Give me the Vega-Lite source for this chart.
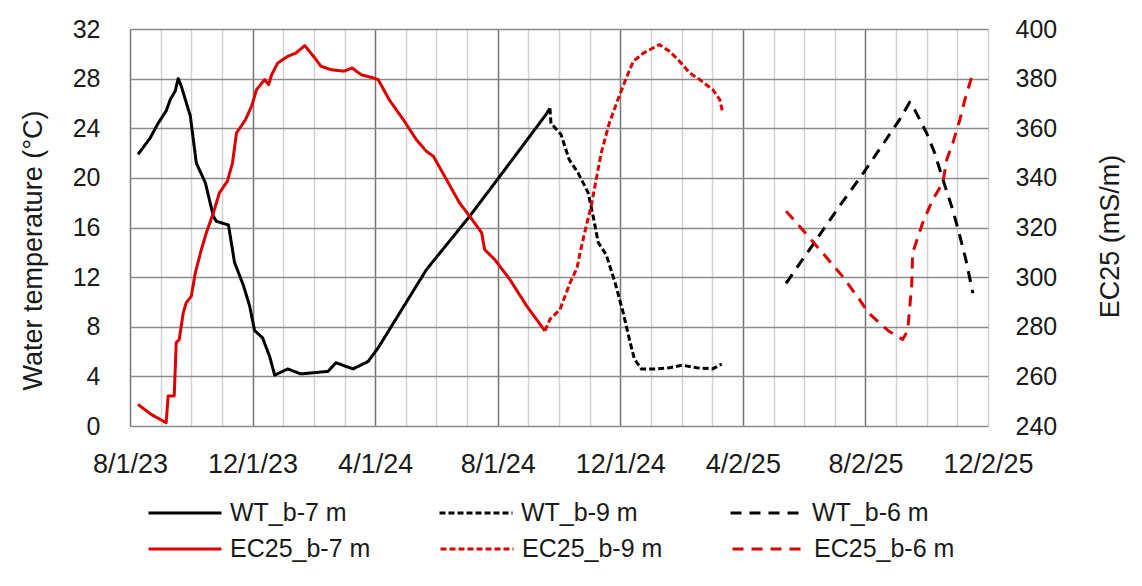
{
  "$schema": "https://vega.github.io/schema/vega-lite/v6.json",
  "width": 858,
  "height": 397,
  "autosize": {"type": "none"},
  "padding": {"left": 130, "top": 29, "right": 154, "bottom": 160},
  "background": "white",
  "config": {
    "font": "Liberation Sans",
    "view": {"stroke": null},
    "axis": {"labelColor": "#1a1a1a", "titleColor": "#1a1a1a", "titleFontWeight": "normal", "labelFont": "Liberation Sans", "titleFont": "Liberation Sans"},
    "legend": {"labelFont": "Liberation Sans", "labelColor": "#1a1a1a"}
  },
  "data": {
    "values": [
      {"d": "2023/08/09", "s": "WT_b-7 m", "k": "WT", "v": 21.9},
      {"d": "2023/08/21", "s": "WT_b-7 m", "k": "WT", "v": 23.2},
      {"d": "2023/08/29", "s": "WT_b-7 m", "k": "WT", "v": 24.4},
      {"d": "2023/09/06", "s": "WT_b-7 m", "k": "WT", "v": 25.4},
      {"d": "2023/09/10", "s": "WT_b-7 m", "k": "WT", "v": 26.3},
      {"d": "2023/09/15", "s": "WT_b-7 m", "k": "WT", "v": 27.0},
      {"d": "2023/09/18", "s": "WT_b-7 m", "k": "WT", "v": 28.0},
      {"d": "2023/09/21", "s": "WT_b-7 m", "k": "WT", "v": 27.4},
      {"d": "2023/09/30", "s": "WT_b-7 m", "k": "WT", "v": 25.0},
      {"d": "2023/10/06", "s": "WT_b-7 m", "k": "WT", "v": 21.2},
      {"d": "2023/10/15", "s": "WT_b-7 m", "k": "WT", "v": 19.6},
      {"d": "2023/10/23", "s": "WT_b-7 m", "k": "WT", "v": 16.9},
      {"d": "2023/10/26", "s": "WT_b-7 m", "k": "WT", "v": 16.5},
      {"d": "2023/11/07", "s": "WT_b-7 m", "k": "WT", "v": 16.2},
      {"d": "2023/11/13", "s": "WT_b-7 m", "k": "WT", "v": 13.2},
      {"d": "2023/11/22", "s": "WT_b-7 m", "k": "WT", "v": 11.3},
      {"d": "2023/11/28", "s": "WT_b-7 m", "k": "WT", "v": 9.7},
      {"d": "2023/12/03", "s": "WT_b-7 m", "k": "WT", "v": 7.7},
      {"d": "2023/12/11", "s": "WT_b-7 m", "k": "WT", "v": 7.1},
      {"d": "2023/12/18", "s": "WT_b-7 m", "k": "WT", "v": 5.6},
      {"d": "2023/12/23", "s": "WT_b-7 m", "k": "WT", "v": 4.1},
      {"d": "2024/01/05", "s": "WT_b-7 m", "k": "WT", "v": 4.6},
      {"d": "2024/01/18", "s": "WT_b-7 m", "k": "WT", "v": 4.2},
      {"d": "2024/02/14", "s": "WT_b-7 m", "k": "WT", "v": 4.4},
      {"d": "2024/02/22", "s": "WT_b-7 m", "k": "WT", "v": 5.1},
      {"d": "2024/03/10", "s": "WT_b-7 m", "k": "WT", "v": 4.6},
      {"d": "2024/03/25", "s": "WT_b-7 m", "k": "WT", "v": 5.2},
      {"d": "2024/04/04", "s": "WT_b-7 m", "k": "WT", "v": 6.3},
      {"d": "2024/05/22", "s": "WT_b-7 m", "k": "WT", "v": 12.6},
      {"d": "2024/07/04", "s": "WT_b-7 m", "k": "WT", "v": 16.9},
      {"d": "2024/08/01", "s": "WT_b-7 m", "k": "WT", "v": 19.9},
      {"d": "2024/09/18", "s": "WT_b-7 m", "k": "WT", "v": 25.1},
      {"d": "2024/09/22", "s": "WT_b-7 m", "k": "WT", "v": 25.6},

      {"d": "2024/09/22", "s": "WT_b-9 m", "k": "WT", "v": 25.6},
      {"d": "2024/09/23", "s": "WT_b-9 m", "k": "WT", "v": 24.4},
      {"d": "2024/10/03", "s": "WT_b-9 m", "k": "WT", "v": 23.5},
      {"d": "2024/10/11", "s": "WT_b-9 m", "k": "WT", "v": 21.5},
      {"d": "2024/10/20", "s": "WT_b-9 m", "k": "WT", "v": 20.4},
      {"d": "2024/10/30", "s": "WT_b-9 m", "k": "WT", "v": 18.8},
      {"d": "2024/11/04", "s": "WT_b-9 m", "k": "WT", "v": 16.9},
      {"d": "2024/11/09", "s": "WT_b-9 m", "k": "WT", "v": 14.8},
      {"d": "2024/11/17", "s": "WT_b-9 m", "k": "WT", "v": 13.8},
      {"d": "2024/11/26", "s": "WT_b-9 m", "k": "WT", "v": 11.5},
      {"d": "2024/12/04", "s": "WT_b-9 m", "k": "WT", "v": 9.1},
      {"d": "2024/12/10", "s": "WT_b-9 m", "k": "WT", "v": 7.0},
      {"d": "2024/12/15", "s": "WT_b-9 m", "k": "WT", "v": 5.4},
      {"d": "2024/12/22", "s": "WT_b-9 m", "k": "WT", "v": 4.6},
      {"d": "2025/01/06", "s": "WT_b-9 m", "k": "WT", "v": 4.6},
      {"d": "2025/01/19", "s": "WT_b-9 m", "k": "WT", "v": 4.7},
      {"d": "2025/02/01", "s": "WT_b-9 m", "k": "WT", "v": 4.9},
      {"d": "2025/02/15", "s": "WT_b-9 m", "k": "WT", "v": 4.7},
      {"d": "2025/03/03", "s": "WT_b-9 m", "k": "WT", "v": 4.6},
      {"d": "2025/03/12", "s": "WT_b-9 m", "k": "WT", "v": 5.0},

      {"d": "2025/05/15", "s": "WT_b-6 m", "k": "WT", "v": 11.5},
      {"d": "2025/06/14", "s": "WT_b-6 m", "k": "WT", "v": 15.0},
      {"d": "2025/07/07", "s": "WT_b-6 m", "k": "WT", "v": 17.7},
      {"d": "2025/07/31", "s": "WT_b-6 m", "k": "WT", "v": 20.4},
      {"d": "2025/08/16", "s": "WT_b-6 m", "k": "WT", "v": 22.3},
      {"d": "2025/09/05", "s": "WT_b-6 m", "k": "WT", "v": 24.7},
      {"d": "2025/09/15", "s": "WT_b-6 m", "k": "WT", "v": 26.1},
      {"d": "2025/09/20", "s": "WT_b-6 m", "k": "WT", "v": 25.5},
      {"d": "2025/10/02", "s": "WT_b-6 m", "k": "WT", "v": 23.6},
      {"d": "2025/10/10", "s": "WT_b-6 m", "k": "WT", "v": 22.0},
      {"d": "2025/10/18", "s": "WT_b-6 m", "k": "WT", "v": 19.9},
      {"d": "2025/10/28", "s": "WT_b-6 m", "k": "WT", "v": 17.4},
      {"d": "2025/11/04", "s": "WT_b-6 m", "k": "WT", "v": 15.3},
      {"d": "2025/11/10", "s": "WT_b-6 m", "k": "WT", "v": 13.4},
      {"d": "2025/11/17", "s": "WT_b-6 m", "k": "WT", "v": 10.7},

      {"d": "2023/08/09", "s": "EC25_b-7 m", "k": "EC", "v": 248.7},
      {"d": "2023/08/22", "s": "EC25_b-7 m", "k": "EC", "v": 244.7},
      {"d": "2023/09/06", "s": "EC25_b-7 m", "k": "EC", "v": 241.3},
      {"d": "2023/09/08", "s": "EC25_b-7 m", "k": "EC", "v": 252.1},
      {"d": "2023/09/14", "s": "EC25_b-7 m", "k": "EC", "v": 252.1},
      {"d": "2023/09/16", "s": "EC25_b-7 m", "k": "EC", "v": 273.6},
      {"d": "2023/09/19", "s": "EC25_b-7 m", "k": "EC", "v": 274.9},
      {"d": "2023/09/23", "s": "EC25_b-7 m", "k": "EC", "v": 285.6},
      {"d": "2023/09/26", "s": "EC25_b-7 m", "k": "EC", "v": 289.7},
      {"d": "2023/10/01", "s": "EC25_b-7 m", "k": "EC", "v": 292.3},
      {"d": "2023/10/05", "s": "EC25_b-7 m", "k": "EC", "v": 301.7},
      {"d": "2023/10/11", "s": "EC25_b-7 m", "k": "EC", "v": 311.1},
      {"d": "2023/10/16", "s": "EC25_b-7 m", "k": "EC", "v": 317.9},
      {"d": "2023/10/23", "s": "EC25_b-7 m", "k": "EC", "v": 325.9},
      {"d": "2023/10/29", "s": "EC25_b-7 m", "k": "EC", "v": 334.0},
      {"d": "2023/11/06", "s": "EC25_b-7 m", "k": "EC", "v": 338.7},
      {"d": "2023/11/11", "s": "EC25_b-7 m", "k": "EC", "v": 346.0},
      {"d": "2023/11/15", "s": "EC25_b-7 m", "k": "EC", "v": 358.1},
      {"d": "2023/11/24", "s": "EC25_b-7 m", "k": "EC", "v": 363.5},
      {"d": "2023/11/30", "s": "EC25_b-7 m", "k": "EC", "v": 368.9},
      {"d": "2023/12/05", "s": "EC25_b-7 m", "k": "EC", "v": 375.6},
      {"d": "2023/12/13", "s": "EC25_b-7 m", "k": "EC", "v": 379.6},
      {"d": "2023/12/17", "s": "EC25_b-7 m", "k": "EC", "v": 377.6},
      {"d": "2023/12/20", "s": "EC25_b-7 m", "k": "EC", "v": 381.6},
      {"d": "2023/12/26", "s": "EC25_b-7 m", "k": "EC", "v": 386.3},
      {"d": "2024/01/05", "s": "EC25_b-7 m", "k": "EC", "v": 389.0},
      {"d": "2024/01/13", "s": "EC25_b-7 m", "k": "EC", "v": 390.3},
      {"d": "2024/01/22", "s": "EC25_b-7 m", "k": "EC", "v": 393.3},
      {"d": "2024/02/01", "s": "EC25_b-7 m", "k": "EC", "v": 388.3},
      {"d": "2024/02/07", "s": "EC25_b-7 m", "k": "EC", "v": 385.0},
      {"d": "2024/02/17", "s": "EC25_b-7 m", "k": "EC", "v": 383.6},
      {"d": "2024/03/01", "s": "EC25_b-7 m", "k": "EC", "v": 383.0},
      {"d": "2024/03/09", "s": "EC25_b-7 m", "k": "EC", "v": 384.3},
      {"d": "2024/03/18", "s": "EC25_b-7 m", "k": "EC", "v": 381.6},
      {"d": "2024/03/30", "s": "EC25_b-7 m", "k": "EC", "v": 380.3},
      {"d": "2024/04/04", "s": "EC25_b-7 m", "k": "EC", "v": 379.6},
      {"d": "2024/04/15", "s": "EC25_b-7 m", "k": "EC", "v": 371.5},
      {"d": "2024/04/29", "s": "EC25_b-7 m", "k": "EC", "v": 363.5},
      {"d": "2024/05/12", "s": "EC25_b-7 m", "k": "EC", "v": 355.4},
      {"d": "2024/05/22", "s": "EC25_b-7 m", "k": "EC", "v": 350.7},
      {"d": "2024/05/29", "s": "EC25_b-7 m", "k": "EC", "v": 348.7},
      {"d": "2024/06/11", "s": "EC25_b-7 m", "k": "EC", "v": 339.3},
      {"d": "2024/06/24", "s": "EC25_b-7 m", "k": "EC", "v": 329.9},
      {"d": "2024/07/04", "s": "EC25_b-7 m", "k": "EC", "v": 324.6},
      {"d": "2024/07/16", "s": "EC25_b-7 m", "k": "EC", "v": 317.9},
      {"d": "2024/07/19", "s": "EC25_b-7 m", "k": "EC", "v": 311.1},
      {"d": "2024/07/29", "s": "EC25_b-7 m", "k": "EC", "v": 307.1},
      {"d": "2024/08/13", "s": "EC25_b-7 m", "k": "EC", "v": 299.1},
      {"d": "2024/08/30", "s": "EC25_b-7 m", "k": "EC", "v": 288.3},
      {"d": "2024/09/17", "s": "EC25_b-7 m", "k": "EC", "v": 278.3},

      {"d": "2024/09/17", "s": "EC25_b-9 m", "k": "EC", "v": 278.3},
      {"d": "2024/09/22", "s": "EC25_b-9 m", "k": "EC", "v": 283.0},
      {"d": "2024/10/02", "s": "EC25_b-9 m", "k": "EC", "v": 287.0},
      {"d": "2024/10/12", "s": "EC25_b-9 m", "k": "EC", "v": 297.7},
      {"d": "2024/10/19", "s": "EC25_b-9 m", "k": "EC", "v": 303.8},
      {"d": "2024/10/22", "s": "EC25_b-9 m", "k": "EC", "v": 309.8},
      {"d": "2024/10/28", "s": "EC25_b-9 m", "k": "EC", "v": 320.5},
      {"d": "2024/11/02", "s": "EC25_b-9 m", "k": "EC", "v": 328.6},
      {"d": "2024/11/07", "s": "EC25_b-9 m", "k": "EC", "v": 339.3},
      {"d": "2024/11/12", "s": "EC25_b-9 m", "k": "EC", "v": 350.0},
      {"d": "2024/11/20", "s": "EC25_b-9 m", "k": "EC", "v": 362.0},
      {"d": "2024/11/29", "s": "EC25_b-9 m", "k": "EC", "v": 372.0},
      {"d": "2024/12/07", "s": "EC25_b-9 m", "k": "EC", "v": 380.3},
      {"d": "2024/12/14", "s": "EC25_b-9 m", "k": "EC", "v": 387.0},
      {"d": "2024/12/24", "s": "EC25_b-9 m", "k": "EC", "v": 390.3},
      {"d": "2025/01/09", "s": "EC25_b-9 m", "k": "EC", "v": 393.7},
      {"d": "2025/01/19", "s": "EC25_b-9 m", "k": "EC", "v": 391.0},
      {"d": "2025/01/29", "s": "EC25_b-9 m", "k": "EC", "v": 387.0},
      {"d": "2025/02/08", "s": "EC25_b-9 m", "k": "EC", "v": 382.3},
      {"d": "2025/02/18", "s": "EC25_b-9 m", "k": "EC", "v": 379.6},
      {"d": "2025/03/03", "s": "EC25_b-9 m", "k": "EC", "v": 375.6},
      {"d": "2025/03/10", "s": "EC25_b-9 m", "k": "EC", "v": 371.5},
      {"d": "2025/03/13", "s": "EC25_b-9 m", "k": "EC", "v": 366.2},

      {"d": "2025/05/15", "s": "EC25_b-6 m", "k": "EC", "v": 326.6},
      {"d": "2025/06/03", "s": "EC25_b-6 m", "k": "EC", "v": 317.9},
      {"d": "2025/06/23", "s": "EC25_b-6 m", "k": "EC", "v": 308.5},
      {"d": "2025/07/10", "s": "EC25_b-6 m", "k": "EC", "v": 300.4},
      {"d": "2025/07/27", "s": "EC25_b-6 m", "k": "EC", "v": 291.0},
      {"d": "2025/08/05", "s": "EC25_b-6 m", "k": "EC", "v": 285.6},
      {"d": "2025/08/25", "s": "EC25_b-6 m", "k": "EC", "v": 278.3},
      {"d": "2025/09/08", "s": "EC25_b-6 m", "k": "EC", "v": 274.9},
      {"d": "2025/09/13", "s": "EC25_b-6 m", "k": "EC", "v": 278.3},
      {"d": "2025/09/17", "s": "EC25_b-6 m", "k": "EC", "v": 296.4},
      {"d": "2025/09/18", "s": "EC25_b-6 m", "k": "EC", "v": 309.8},
      {"d": "2025/09/28", "s": "EC25_b-6 m", "k": "EC", "v": 321.9},
      {"d": "2025/10/08", "s": "EC25_b-6 m", "k": "EC", "v": 331.3},
      {"d": "2025/10/18", "s": "EC25_b-6 m", "k": "EC", "v": 338.0},
      {"d": "2025/10/22", "s": "EC25_b-6 m", "k": "EC", "v": 347.4},
      {"d": "2025/10/28", "s": "EC25_b-6 m", "k": "EC", "v": 354.1},
      {"d": "2025/11/04", "s": "EC25_b-6 m", "k": "EC", "v": 363.5},
      {"d": "2025/11/09", "s": "EC25_b-6 m", "k": "EC", "v": 371.5},
      {"d": "2025/11/17", "s": "EC25_b-6 m", "k": "EC", "v": 382.3}
    ]
  },
  "layer": [
    {
      "transform": [{"filter": "datum.k == 'WT'"}],
      "mark": {"type": "line", "strokeWidth": 3, "strokeCap": "butt", "strokeJoin": "round"},
      "encoding": {
        "x": {
          "field": "d", "type": "temporal",
          "scale": {"domain": [{"year": 2023, "month": 8, "date": 1}, {"year": 2025, "month": 12, "date": 2}]},
          "axis": {
            "orient": "top", "title": null, "labels": false, "ticks": false, "tickSize": 0, "domain": false,
            "grid": true, "gridColor": "#d2d2d2", "gridWidth": 1.5,
            "values": [
              {"year": 2023, "month": 8, "date": 31, "hours": 12},
              {"year": 2023, "month": 10, "date": 1},
              {"year": 2023, "month": 10, "date": 31, "hours": 12},
              {"year": 2023, "month": 12, "date": 31, "hours": 12},
              {"year": 2024, "month": 1, "date": 31},
              {"year": 2024, "month": 3, "date": 1, "hours": 12},
              {"year": 2024, "month": 5, "date": 1, "hours": 12},
              {"year": 2024, "month": 6, "date": 1},
              {"year": 2024, "month": 7, "date": 1, "hours": 12},
              {"year": 2024, "month": 8, "date": 31, "hours": 12},
              {"year": 2024, "month": 10, "date": 1},
              {"year": 2024, "month": 10, "date": 31, "hours": 12},
              {"year": 2024, "month": 12, "date": 31, "hours": 12},
              {"year": 2025, "month": 1, "date": 31},
              {"year": 2025, "month": 3, "date": 2, "hours": 12},
              {"year": 2025, "month": 5, "date": 2, "hours": 12},
              {"year": 2025, "month": 6, "date": 2},
              {"year": 2025, "month": 7, "date": 2, "hours": 12},
              {"year": 2025, "month": 9, "date": 1, "hours": 12},
              {"year": 2025, "month": 10, "date": 2},
              {"year": 2025, "month": 11, "date": 1, "hours": 12}
            ]
          }
        },
        "y": {
          "field": "v", "type": "quantitative",
          "scale": {"domain": [0, 32], "nice": false, "zero": false},
          "axis": {
            "values": [0, 4, 8, 12, 16, 20, 24, 28, 32],
            "grid": true, "gridColor": "#8c8c8c", "gridWidth": 1.5,
            "domain": false, "ticks": false, "tickSize": 0,
            "labelFontSize": 25, "labelPadding": 30,
            "title": "Water temperature (°C)", "titleFontSize": 27,
            "titleAngle": -90, "titleX": -97, "titleY": 221, "titleAlign": "center", "titleBaseline": "middle"
          }
        },
        "color": {
          "field": "s", "type": "nominal",
          "scale": {
            "domain": ["WT_b-7 m", "WT_b-9 m", "WT_b-6 m"],
            "range": ["#000000", "#000000", "#000000"]
          },
          "legend": {
            "title": null, "orient": "none", "legendX": 17, "legendY": 446, "direction": "horizontal", "columns": 3,
            "symbolType": "stroke", "symbolSize": 5329, "symbolStrokeWidth": 3,
            "labelFontSize": 25, "labelOffset": 7, "labelLimit": 400,
            "columnPadding": 86
          }
        },
        "strokeDash": {
          "field": "s", "type": "nominal",
          "scale": {
            "domain": ["WT_b-7 m", "WT_b-9 m", "WT_b-6 m"],
            "range": [[1, 0], [6, 3], [11, 8]]
          },
          "legend": {
            "title": null, "orient": "none", "legendX": 17, "legendY": 446, "direction": "horizontal", "columns": 3,
            "symbolType": "stroke", "symbolSize": 5329, "symbolStrokeWidth": 3,
            "labelFontSize": 25, "labelOffset": 7, "labelLimit": 400,
            "columnPadding": 86
          }
        }
      }
    },
    {
      "transform": [{"filter": "datum.k == 'EC'"}],
      "mark": {"type": "line", "strokeWidth": 3, "strokeCap": "butt", "strokeJoin": "round"},
      "encoding": {
        "x": {
          "field": "d", "type": "temporal",
          "scale": {"domain": [{"year": 2023, "month": 8, "date": 1}, {"year": 2025, "month": 12, "date": 2}]},
          "axis": {
            "orient": "bottom", "title": null, "format": "%-m/%-d/%y",
            "ticks": false, "tickSize": 0, "domain": false,
            "labelFontSize": 27, "labelPadding": 25, "labelFlush": false, "labelOverlap": false, "labelBound": false,
            "grid": true, "gridWidth": 1.5,
            "gridColor": {"condition": {"test": "datum.value > datetime(2025, 9, 1)", "value": "#d2d2d2"}, "value": "#737373"},
            "values": [
              {"year": 2023, "month": 8, "date": 1},
              {"year": 2023, "month": 12, "date": 1},
              {"year": 2024, "month": 4, "date": 1},
              {"year": 2024, "month": 8, "date": 1},
              {"year": 2024, "month": 12, "date": 1},
              {"year": 2025, "month": 4, "date": 2},
              {"year": 2025, "month": 8, "date": 2},
              {"year": 2025, "month": 12, "date": 2}
            ]
          }
        },
        "y": {
          "field": "v", "type": "quantitative",
          "scale": {"domain": [240, 400], "nice": false, "zero": false},
          "axis": {
            "orient": "right",
            "values": [240, 260, 280, 300, 320, 340, 360, 380, 400],
            "grid": false, "domain": false, "ticks": false, "tickSize": 0,
            "labelFontSize": 25, "labelPadding": 27,
            "title": "EC25 (mS/m)", "titleFontSize": 27,
            "titleAngle": -90, "titleX": 122, "titleY": 207, "titleAlign": "center", "titleBaseline": "middle"
          }
        },
        "color": {
          "field": "s", "type": "nominal",
          "scale": {
            "domain": ["EC25_b-7 m", "EC25_b-9 m", "EC25_b-6 m"],
            "range": ["#dd0000", "#dd0000", "#dd0000"]
          },
          "legend": {
            "title": null, "orient": "none", "legendX": 17, "legendY": 482, "direction": "horizontal", "columns": 3,
            "symbolType": "stroke", "symbolSize": 5329, "symbolStrokeWidth": 3,
            "labelFontSize": 25, "labelOffset": 7, "labelLimit": 400,
            "columnPadding": 63
          }
        },
        "strokeDash": {
          "field": "s", "type": "nominal",
          "scale": {
            "domain": ["EC25_b-7 m", "EC25_b-9 m", "EC25_b-6 m"],
            "range": [[1, 0], [6, 3], [11, 8]]
          },
          "legend": {
            "title": null, "orient": "none", "legendX": 17, "legendY": 482, "direction": "horizontal", "columns": 3,
            "symbolType": "stroke", "symbolSize": 5329, "symbolStrokeWidth": 3,
            "labelFontSize": 25, "labelOffset": 7, "labelLimit": 400,
            "columnPadding": 63
          }
        }
      }
    }
  ],
  "resolve": {
    "scale": {"y": "independent", "color": "independent", "strokeDash": "independent"},
    "axis": {"x": "independent", "y": "independent"},
    "legend": {"color": "independent", "strokeDash": "independent"}
  }
}
